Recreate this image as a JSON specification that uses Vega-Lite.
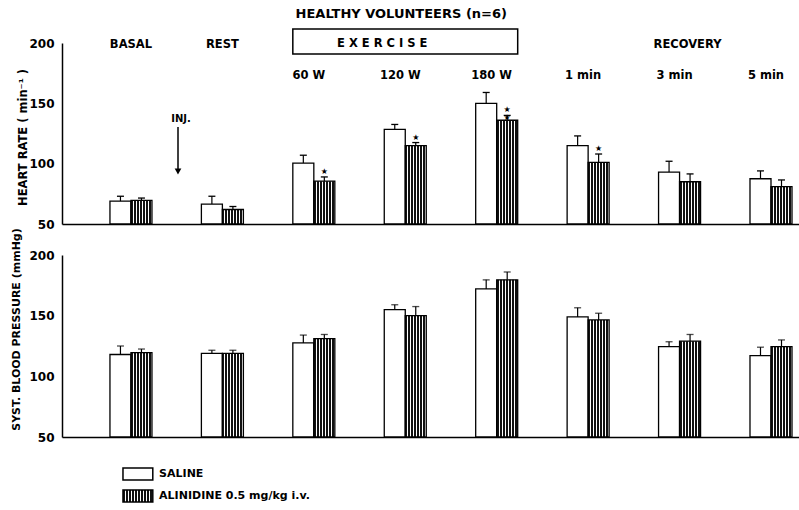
{
  "$schema": "https://vega.github.io/schema/vega-lite/v6.json",
  "padding": {"left": 10, "top": 7, "right": 0, "bottom": 8},
  "spacing": 31,
  "bounds": "flush",
  "config": {
    "view": {"stroke": null},
    "font": "DejaVu Sans",
    "axis": {"labelFont": "DejaVu Sans", "labelFontWeight": "bold", "labelFontSize": 12, "labelColor": "black", "titleFont": "DejaVu Sans", "titleFontWeight": "bold", "titleColor": "black", "domainColor": "black", "domainWidth": 1.5, "grid": false},
    "text": {"font": "DejaVu Sans", "fontWeight": "bold", "color": "black"}
  },
  "datasets": {
    "hr": [
      {"cond": "BASAL", "group": "SALINE", "value": 69, "upper": 73},
      {"cond": "BASAL", "group": "ALINIDINE", "value": 69.5, "upper": 71.5},
      {"cond": "REST", "group": "SALINE", "value": 66.5, "upper": 73},
      {"cond": "REST", "group": "ALINIDINE", "value": 62, "upper": 64.5},
      {"cond": "60 W", "group": "SALINE", "value": 100.5, "upper": 107},
      {"cond": "60 W", "group": "ALINIDINE", "value": 85.5, "upper": 89, "stars": "★"},
      {"cond": "120 W", "group": "SALINE", "value": 128.5, "upper": 132.5},
      {"cond": "120 W", "group": "ALINIDINE", "value": 115, "upper": 117.5, "stars": "★"},
      {"cond": "180 W", "group": "SALINE", "value": 150, "upper": 159},
      {"cond": "180 W", "group": "ALINIDINE", "value": 136, "upper": 140, "stars": "★\n★"},
      {"cond": "1 min", "group": "SALINE", "value": 115, "upper": 123},
      {"cond": "1 min", "group": "ALINIDINE", "value": 101, "upper": 108, "stars": "★"},
      {"cond": "3 min", "group": "SALINE", "value": 93, "upper": 102},
      {"cond": "3 min", "group": "ALINIDINE", "value": 85, "upper": 91.5},
      {"cond": "5 min", "group": "SALINE", "value": 87.5, "upper": 94},
      {"cond": "5 min", "group": "ALINIDINE", "value": 81, "upper": 86.5}
    ],
    "bp": [
      {"cond": "BASAL", "group": "SALINE", "value": 118, "upper": 125},
      {"cond": "BASAL", "group": "ALINIDINE", "value": 119.5, "upper": 122.5},
      {"cond": "REST", "group": "SALINE", "value": 119, "upper": 121.5},
      {"cond": "REST", "group": "ALINIDINE", "value": 119, "upper": 121.5},
      {"cond": "60 W", "group": "SALINE", "value": 127.5, "upper": 134},
      {"cond": "60 W", "group": "ALINIDINE", "value": 131, "upper": 134.5},
      {"cond": "120 W", "group": "SALINE", "value": 155, "upper": 159},
      {"cond": "120 W", "group": "ALINIDINE", "value": 150, "upper": 157.5},
      {"cond": "180 W", "group": "SALINE", "value": 172, "upper": 179.5},
      {"cond": "180 W", "group": "ALINIDINE", "value": 179.5, "upper": 186},
      {"cond": "1 min", "group": "SALINE", "value": 149, "upper": 156.5},
      {"cond": "1 min", "group": "ALINIDINE", "value": 146.5, "upper": 152},
      {"cond": "3 min", "group": "SALINE", "value": 124.5, "upper": 128.5},
      {"cond": "3 min", "group": "ALINIDINE", "value": 129, "upper": 134.5},
      {"cond": "5 min", "group": "SALINE", "value": 117, "upper": 124},
      {"cond": "5 min", "group": "ALINIDINE", "value": 124.5, "upper": 130}
    ],
    "legend": [
      {"cond": "BASAL", "group": "SALINE", "label": "SALINE"},
      {"cond": "BASAL", "group": "ALINIDINE", "label": "ALINIDINE  0.5 mg/kg  i.v."}
    ]
  },
  "vconcat": [
    {
      "width": 738,
      "height": 181,
      "layer": [
        {
          "data": {"name": "hr"},
          "mark": {"type": "bar", "stroke": "black", "strokeWidth": 1.3},
          "encoding": {
            "x": {"field": "cond", "type": "nominal", "scale": {"domain": ["BASAL", "REST", "60 W", "120 W", "180 W", "1 min", "3 min", "5 min"], "paddingInner": 0.5406, "paddingOuter": 0.306, "align": 0.857, "round": false}, "axis": {"title": null, "labels": false, "ticks": false}},
            "xOffset": {"field": "group", "type": "nominal", "scale": {"domain": ["SALINE", "ALINIDINE"], "paddingInner": 0, "paddingOuter": 0}},
            "y": {"field": "value", "type": "quantitative", "scale": {"domain": [50, 200], "nice": false, "zero": false}, "axis": {"title": "HEART RATE ( min⁻¹ )", "values": [50, 100, 150, 200], "ticks": false, "labelPadding": 8, "titlePadding": 0, "titleFontSize": 11.5, "titleY": 94}},
            "y2": {"datum": 50},
            "fill": {"condition": {"test": "datum.group === 'ALINIDINE'", "value": {"gradient": "linear", "x1": 0, "y1": 0, "x2": 1, "y2": 0, "stops": [
              {"offset": 0, "color": "#111"}, {"offset": 0.093, "color": "#111"}, {"offset": 0.093, "color": "#fff"}, {"offset": 0.143, "color": "#fff"},
              {"offset": 0.143, "color": "#111"}, {"offset": 0.236, "color": "#111"}, {"offset": 0.236, "color": "#fff"}, {"offset": 0.286, "color": "#fff"},
              {"offset": 0.286, "color": "#111"}, {"offset": 0.379, "color": "#111"}, {"offset": 0.379, "color": "#fff"}, {"offset": 0.429, "color": "#fff"},
              {"offset": 0.429, "color": "#111"}, {"offset": 0.522, "color": "#111"}, {"offset": 0.522, "color": "#fff"}, {"offset": 0.571, "color": "#fff"},
              {"offset": 0.571, "color": "#111"}, {"offset": 0.664, "color": "#111"}, {"offset": 0.664, "color": "#fff"}, {"offset": 0.714, "color": "#fff"},
              {"offset": 0.714, "color": "#111"}, {"offset": 0.807, "color": "#111"}, {"offset": 0.807, "color": "#fff"}, {"offset": 0.857, "color": "#fff"},
              {"offset": 0.857, "color": "#111"}, {"offset": 0.95, "color": "#111"}, {"offset": 0.95, "color": "#fff"}, {"offset": 1, "color": "#fff"}
            ]}}, "value": "#ffffff"}
          }
        },
        {
          "data": {"name": "hr"},
          "mark": {"type": "rule", "color": "black", "strokeWidth": 1.2},
          "encoding": {
            "x": {"field": "cond", "type": "nominal"},
            "xOffset": {"field": "group", "type": "nominal"},
            "y": {"field": "value", "type": "quantitative"},
            "y2": {"field": "upper"}
          }
        },
        {
          "data": {"name": "hr"},
          "mark": {"type": "tick", "color": "black", "size": 7, "thickness": 1.3, "orient": "horizontal", "opacity": 1},
          "encoding": {
            "x": {"field": "cond", "type": "nominal"},
            "xOffset": {"field": "group", "type": "nominal"},
            "y": {"field": "upper", "type": "quantitative"}
          }
        },
        {
          "data": {"name": "hr"},
          "transform": [{"filter": "datum.stars"}],
          "mark": {"type": "text", "baseline": "bottom", "dy": -1, "fontSize": 8, "lineHeight": 8, "lineBreak": "\n"},
          "encoding": {
            "x": {"field": "cond", "type": "nominal"},
            "xOffset": {"field": "group", "type": "nominal"},
            "y": {"field": "upper", "type": "quantitative"},
            "text": {"field": "stars"}
          }
        },
        {
          "data": {"values": [{"cond": "BASAL"}, {"cond": "REST"}]},
          "mark": {"type": "text", "fontSize": 11.5, "baseline": "middle"},
          "encoding": {
            "x": {"field": "cond", "type": "nominal"},
            "y": {"datum": 198.3, "type": "quantitative"},
            "text": {"field": "cond"}
          }
        },
        {
          "data": {"values": [{"cond": "60 W"}, {"cond": "120 W"}, {"cond": "180 W"}, {"cond": "1 min"}, {"cond": "3 min"}, {"cond": "5 min"}]},
          "mark": {"type": "text", "fontSize": 11.5, "baseline": "middle", "dx": -5},
          "encoding": {
            "x": {"field": "cond", "type": "nominal"},
            "y": {"datum": 172.7, "type": "quantitative"},
            "text": {"field": "cond"}
          }
        },
        {
          "data": {"values": [{"cond": "3 min", "label": "RECOVERY"}]},
          "mark": {"type": "text", "fontSize": 11.5, "baseline": "middle", "dx": 8},
          "encoding": {
            "x": {"field": "cond", "type": "nominal"},
            "y": {"datum": 198.3, "type": "quantitative"},
            "text": {"field": "label"}
          }
        },
        {
          "data": {"values": [{"start": "60 W", "end": "180 W"}]},
          "mark": {"type": "rect", "fill": "white", "stroke": "black", "strokeWidth": 1.5},
          "encoding": {
            "x": {"field": "start", "type": "nominal", "bandPosition": 0},
            "x2": {"field": "end", "bandPosition": 1},
            "y": {"datum": 211.6, "type": "quantitative"},
            "y2": {"datum": 190.9}
          }
        },
        {
          "data": {"values": [{"cond": "120 W", "label": "E X E R C I S E"}]},
          "mark": {"type": "text", "fontSize": 11.5, "baseline": "middle", "dx": -23},
          "encoding": {
            "x": {"field": "cond", "type": "nominal"},
            "y": {"datum": 198.8, "type": "quantitative"},
            "text": {"field": "label"}
          }
        },
        {
          "data": {"values": [{"cond": "120 W", "label": "HEALTHY VOLUNTEERS   (n=6)"}]},
          "mark": {"type": "text", "fontSize": 13, "baseline": "middle", "dx": -4},
          "encoding": {
            "x": {"field": "cond", "type": "nominal"},
            "y": {"datum": 224.2, "type": "quantitative"},
            "text": {"field": "label"}
          }
        },
        {
          "data": {"values": [{"cond": "BASAL", "label": "INJ."}]},
          "mark": {"type": "text", "fontSize": 10, "baseline": "middle", "dx": 3},
          "encoding": {
            "x": {"field": "cond", "type": "nominal", "bandPosition": 1.62},
            "y": {"datum": 137, "type": "quantitative"},
            "text": {"field": "label"}
          }
        },
        {
          "data": {"values": [{"cond": "BASAL"}]},
          "mark": {"type": "rule", "color": "black", "strokeWidth": 1.5},
          "encoding": {
            "x": {"field": "cond", "type": "nominal", "bandPosition": 1.62},
            "y": {"datum": 130.4, "type": "quantitative"},
            "y2": {"datum": 93}
          }
        },
        {
          "data": {"values": [{"cond": "BASAL"}]},
          "mark": {"type": "point", "shape": "triangle-down", "filled": true, "color": "black", "size": 45, "opacity": 1},
          "encoding": {
            "x": {"field": "cond", "type": "nominal", "bandPosition": 1.62},
            "y": {"datum": 93.5, "type": "quantitative"}
          }
        }
      ]
    },
    {
      "width": 738,
      "height": 182,
      "layer": [
        {
          "data": {"name": "bp"},
          "mark": {"type": "bar", "stroke": "black", "strokeWidth": 1.3},
          "encoding": {
            "x": {"field": "cond", "type": "nominal", "scale": {"domain": ["BASAL", "REST", "60 W", "120 W", "180 W", "1 min", "3 min", "5 min"], "paddingInner": 0.5406, "paddingOuter": 0.306, "align": 0.857, "round": false}, "axis": {"title": null, "labels": false, "ticks": false}},
            "xOffset": {"field": "group", "type": "nominal", "scale": {"domain": ["SALINE", "ALINIDINE"], "paddingInner": 0, "paddingOuter": 0}},
            "y": {"field": "value", "type": "quantitative", "scale": {"domain": [50, 200], "nice": false, "zero": false}, "axis": {"title": "SYST. BLOOD PRESSURE (mmHg)", "values": [50, 100, 150, 200], "ticks": false, "labelPadding": 8, "titlePadding": 7, "titleFontSize": 11, "titleY": 74}},
            "y2": {"datum": 50},
            "fill": {"condition": {"test": "datum.group === 'ALINIDINE'", "value": {"gradient": "linear", "x1": 0, "y1": 0, "x2": 1, "y2": 0, "stops": [
              {"offset": 0, "color": "#111"}, {"offset": 0.093, "color": "#111"}, {"offset": 0.093, "color": "#fff"}, {"offset": 0.143, "color": "#fff"},
              {"offset": 0.143, "color": "#111"}, {"offset": 0.236, "color": "#111"}, {"offset": 0.236, "color": "#fff"}, {"offset": 0.286, "color": "#fff"},
              {"offset": 0.286, "color": "#111"}, {"offset": 0.379, "color": "#111"}, {"offset": 0.379, "color": "#fff"}, {"offset": 0.429, "color": "#fff"},
              {"offset": 0.429, "color": "#111"}, {"offset": 0.522, "color": "#111"}, {"offset": 0.522, "color": "#fff"}, {"offset": 0.571, "color": "#fff"},
              {"offset": 0.571, "color": "#111"}, {"offset": 0.664, "color": "#111"}, {"offset": 0.664, "color": "#fff"}, {"offset": 0.714, "color": "#fff"},
              {"offset": 0.714, "color": "#111"}, {"offset": 0.807, "color": "#111"}, {"offset": 0.807, "color": "#fff"}, {"offset": 0.857, "color": "#fff"},
              {"offset": 0.857, "color": "#111"}, {"offset": 0.95, "color": "#111"}, {"offset": 0.95, "color": "#fff"}, {"offset": 1, "color": "#fff"}
            ]}}, "value": "#ffffff"}
          }
        },
        {
          "data": {"name": "bp"},
          "mark": {"type": "rule", "color": "black", "strokeWidth": 1.2},
          "encoding": {
            "x": {"field": "cond", "type": "nominal"},
            "xOffset": {"field": "group", "type": "nominal"},
            "y": {"field": "value", "type": "quantitative"},
            "y2": {"field": "upper"}
          }
        },
        {
          "data": {"name": "bp"},
          "mark": {"type": "tick", "color": "black", "size": 7, "thickness": 1.3, "orient": "horizontal"},
          "encoding": {
            "x": {"field": "cond", "type": "nominal"},
            "xOffset": {"field": "group", "type": "nominal"},
            "y": {"field": "upper", "type": "quantitative"}
          }
        },
        {
          "data": {"name": "legend"},
          "transform": [{"filter": "datum.group === 'SALINE'"}],
          "mark": {"type": "rect", "fill": "white", "stroke": "black", "strokeWidth": 1.5},
          "encoding": {
            "x": {"field": "cond", "type": "nominal", "bandPosition": 0.31},
            "x2": {"field": "cond", "bandPosition": 1.02},
            "y": {"datum": 24.4, "type": "quantitative"},
            "y2": {"datum": 14.6}
          }
        },
        {
          "data": {"name": "legend"},
          "transform": [{"filter": "datum.group === 'ALINIDINE'"}],
          "mark": {"type": "rect", "stroke": "black", "strokeWidth": 1.5, "fill": {"gradient": "linear", "x1": 0, "y1": 0, "x2": 1, "y2": 0, "stops": [
            {"offset": 0, "color": "#111"}, {"offset": 0.065, "color": "#111"}, {"offset": 0.065, "color": "#fff"}, {"offset": 0.1, "color": "#fff"},
            {"offset": 0.1, "color": "#111"}, {"offset": 0.165, "color": "#111"}, {"offset": 0.165, "color": "#fff"}, {"offset": 0.2, "color": "#fff"},
            {"offset": 0.2, "color": "#111"}, {"offset": 0.265, "color": "#111"}, {"offset": 0.265, "color": "#fff"}, {"offset": 0.3, "color": "#fff"},
            {"offset": 0.3, "color": "#111"}, {"offset": 0.365, "color": "#111"}, {"offset": 0.365, "color": "#fff"}, {"offset": 0.4, "color": "#fff"},
            {"offset": 0.4, "color": "#111"}, {"offset": 0.465, "color": "#111"}, {"offset": 0.465, "color": "#fff"}, {"offset": 0.5, "color": "#fff"},
            {"offset": 0.5, "color": "#111"}, {"offset": 0.565, "color": "#111"}, {"offset": 0.565, "color": "#fff"}, {"offset": 0.6, "color": "#fff"},
            {"offset": 0.6, "color": "#111"}, {"offset": 0.665, "color": "#111"}, {"offset": 0.665, "color": "#fff"}, {"offset": 0.7, "color": "#fff"},
            {"offset": 0.7, "color": "#111"}, {"offset": 0.765, "color": "#111"}, {"offset": 0.765, "color": "#fff"}, {"offset": 0.8, "color": "#fff"},
            {"offset": 0.8, "color": "#111"}, {"offset": 0.865, "color": "#111"}, {"offset": 0.865, "color": "#fff"}, {"offset": 0.9, "color": "#fff"},
            {"offset": 0.9, "color": "#111"}, {"offset": 0.965, "color": "#111"}, {"offset": 0.965, "color": "#fff"}, {"offset": 1, "color": "#fff"}
          ]}},
          "encoding": {
            "x": {"field": "cond", "type": "nominal", "bandPosition": 0.31},
            "x2": {"field": "cond", "bandPosition": 1.02},
            "y": {"datum": 6.35, "type": "quantitative"},
            "y2": {"datum": -3.55}
          }
        },
        {
          "data": {"name": "legend"},
          "transform": [{"filter": "datum.group === 'SALINE'"}],
          "mark": {"type": "text", "fontSize": 11, "align": "left", "baseline": "middle"},
          "encoding": {
            "x": {"field": "cond", "type": "nominal", "bandPosition": 1.17},
            "y": {"datum": 19.5, "type": "quantitative"},
            "text": {"field": "label"}
          }
        },
        {
          "data": {"name": "legend"},
          "transform": [{"filter": "datum.group === 'ALINIDINE'"}],
          "mark": {"type": "text", "fontSize": 11, "align": "left", "baseline": "middle"},
          "encoding": {
            "x": {"field": "cond", "type": "nominal", "bandPosition": 1.17},
            "y": {"datum": 1.4, "type": "quantitative"},
            "text": {"field": "label"}
          }
        }
      ]
    }
  ]
}
